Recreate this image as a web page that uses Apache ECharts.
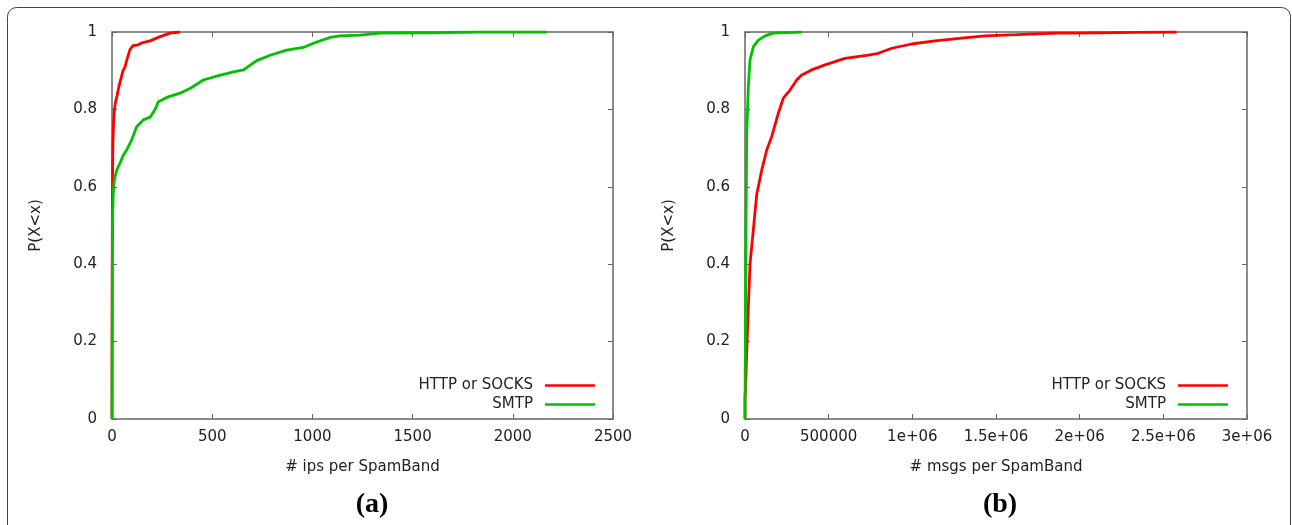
<!DOCTYPE html>
<html><head><meta charset="utf-8">
<script src="https://cdn.jsdelivr.net/npm/echarts@6/dist/echarts.min.js"></script>
<style>html,body{margin:0;padding:0;background:#fff}#c{width:1292px;height:525px}</style>
</head><body><div id="c"></div>
<script>
// ---- data ----
const seriesNames = ['HTTP or SOCKS', 'SMTP'];
// (a) # ips per SpamBand : [x, P(X<x)]
const ipsHttp = [[0,0],[0,0.13],[1,0.4],[2,0.55],[3,0.65],[5,0.72],[8,0.77],[12,0.80],[18,0.82],[25,0.835],[35,0.86],[45,0.88],[55,0.9],[65,0.91],[75,0.93],[90,0.955],[105,0.965],[130,0.967],[150,0.972],[190,0.977],[240,0.988],[290,0.997],[340,1.0]];
const ipsSmtp = [[0,0],[1,0.2],[2,0.42],[3,0.52],[6,0.58],[10,0.61],[15,0.626],[25,0.645],[40,0.661],[55,0.68],[73,0.695],[98,0.721],[123,0.755],[156,0.773],[190,0.78],[215,0.80],[232,0.82],[273,0.831],[339,0.842],[389,0.854],[456,0.876],[522,0.886],[606,0.897],[656,0.902],[722,0.926],[789,0.94],[871,0.953],[955,0.96],[1005,0.971],[1088,0.986],[1138,0.99],[1238,0.992],[1337,0.997],[1600,0.998],[1827,1],[2170,1]];
// (b) # msgs per SpamBand
const msgsHttp = [[0,0],[0,0.05],[5000,0.1],[10000,0.17],[20000,0.29],[30000,0.40],[50000,0.49],[70000,0.58],[100000,0.643],[130000,0.695],[159000,0.729],[199000,0.79],[229000,0.829],[269000,0.85],[309000,0.876],[339000,0.889],[398000,0.902],[478000,0.915],[598000,0.932],[737000,0.94],[797000,0.945],[877000,0.958],[996000,0.969],[1135000,0.977],[1295000,0.984],[1434000,0.99],[1624000,0.993],[1863000,0.997],[1982000,0.997],[2341000,0.999],[2580000,1.0]];
const msgsSmtp = [[0,0],[2000,0.2],[5000,0.45],[8000,0.6],[10000,0.734],[20000,0.859],[30000,0.928],[50000,0.962],[80000,0.979],[120000,0.99],[169000,0.997],[339000,1.0]];
const yTicks = [0, 0.2, 0.4, 0.6, 0.8, 1];
const xTicksA = [0, 500, 1000, 1500, 2000, 2500];
const xTicksB = ['0', '500000', '1e+06', '1.5e+06', '2e+06', '2.5e+06', '3e+06'];
const xNames = ['# ips per SpamBand', '# msgs per SpamBand'];
const yName = 'P(X<x)';
const captions = ['(a)', '(b)'];

const FONT = 'DejaVu Sans';
const FS = 15;
const AX = '#666';
const colors = ['#ff0000', '#00c000'];

const grids = [
  {left: 112, top: 32, width: 501, height: 387},
  {left: 745, top: 32, width: 502, height: 387}
];

function xAx(i, max, interval, fmt, pos) {
  const main = pos === 'bottom';
  return {
    type: 'value', gridIndex: i, min: 0, max: max, interval: interval, position: pos,
    name: main ? xNames[i] : '', nameLocation: 'middle', nameGap: 41,
    nameTextStyle: {fontFamily: FONT, fontSize: FS, color: '#222'},
    axisLine: {show: true, onZero: false, lineStyle: {color: AX, width: 1.5}},
    axisTick: {show: true, inside: true, length: 5, lineStyle: {color: AX}},
    axisLabel: {show: main, margin: 11, fontFamily: FONT, fontSize: FS, color: '#222', formatter: fmt},
    splitLine: {show: false}
  };
}
function yAx(i, pos) {
  const main = pos === 'left';
  return {
    type: 'value', gridIndex: i, min: 0, max: 1, interval: 0.2, position: pos,
    name: main ? yName : '', nameLocation: 'middle', nameGap: 68, nameRotate: 90,
    nameTextStyle: {fontFamily: FONT, fontSize: FS, color: '#222'},
    axisLine: {show: true, onZero: false, lineStyle: {color: AX, width: 1.5}},
    axisTick: {show: true, inside: true, length: 5, lineStyle: {color: AX}},
    axisLabel: {show: main, margin: 15, fontFamily: FONT, fontSize: FS, color: '#222',
      formatter: v => { const t = yTicks.find(k => Math.abs(k - v) < 1e-9); return t === undefined ? '' : String(t); }},
    splitLine: {show: false}
  };
}
const fmtA = v => { const t = xTicksA.find(k => k === v); return t === undefined ? '' : String(t); };
const fmtB = v => { const idx = Math.round(v / 500000); return xTicksB[idx] || ''; };

function line(name, data, xi, yi, c, z) {
  return {name: name, type: 'line', data: data, xAxisIndex: xi, yAxisIndex: yi, showSymbol: false,
    symbol: 'none', lineStyle: {color: c, width: 2.8}, itemStyle: {color: c}, z: z, animation: false};
}

function legendItem(name, right, top) {
  return {data: [name], orient: 'vertical', right: right, top: top, padding: 0, align: 'right',
    icon: 'rect', itemWidth: 50, itemHeight: 2.5, selectedMode: false,
    textStyle: {fontFamily: FONT, fontSize: FS, color: '#222', padding: [0, 7, 0, 0]}};
}

const chart = echarts.init(document.getElementById('c'), null, {renderer: 'canvas'});
chart.setOption({
  backgroundColor: '#fff',
  animation: false,
  grid: grids.map(g => Object.assign({containLabel: false, show: false}, g)),
  xAxis: [
    xAx(0, 2500, 500, fmtA, 'bottom'), xAx(0, 2500, 500, fmtA, 'top'),
    xAx(1, 3000000, 500000, fmtB, 'bottom'), xAx(1, 3000000, 500000, fmtB, 'top')
  ],
  yAxis: [
    yAx(0, 'left'), yAx(0, 'right'), yAx(1, 'left'), yAx(1, 'right')
  ],
  legend: [
    legendItem(seriesNames[0], 1292 - 595, 378),
    legendItem(seriesNames[1], 1292 - 595, 397),
    legendItem(seriesNames[0], 1292 - 1228, 378),
    legendItem(seriesNames[1], 1292 - 1228, 397)
  ],
  series: [
    line(seriesNames[0], ipsHttp, 0, 0, colors[0], 2),
    line(seriesNames[1], ipsSmtp, 0, 0, colors[1], 3),
    line(seriesNames[0], msgsHttp, 2, 2, colors[0], 2),
    line(seriesNames[1], msgsSmtp, 2, 2, colors[1], 3)
  ],
  graphic: [
    {type: 'rect', shape: {x: 7.5, y: 7.5, width: 1283, height: 560, r: 9}, style: {fill: 'none', stroke: '#444', lineWidth: 1}, silent: true},
    {type: 'text', x: 372, y: 505, style: {text: captions[0], font: 'bold 28px "Liberation Serif"', fill: '#000', textAlign: 'center', textVerticalAlign: 'middle'}},
    {type: 'text', x: 1000, y: 505, style: {text: captions[1], font: 'bold 28px "Liberation Serif"', fill: '#000', textAlign: 'center', textVerticalAlign: 'middle'}}
  ]
});
</script></body></html>
